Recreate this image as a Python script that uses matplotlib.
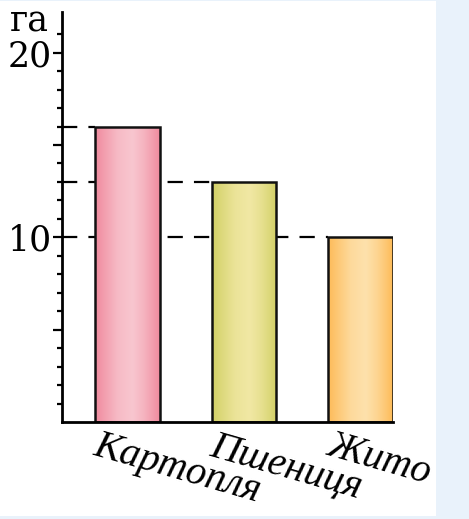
import numpy as np
import matplotlib
matplotlib.use("Agg")
import matplotlib.pyplot as plt
from matplotlib.patches import Rectangle
from matplotlib.colors import LinearSegmentedColormap

categories = ["Картопля", "Пшениця", "Жито"]
values = [16, 13, 10]
y_ticks = [10, 20]
y_unit = "га"
edge_colors = ["#f08a9e", "#d2d066", "#fdbb58"]
mid_colors = ["#f8c6cf", "#f1e8a4", "#fee1ac"]

plt.rcParams['lines.scale_dashes'] = False

W, H = 469, 519
fig = plt.figure(figsize=(W / 100, H / 100), dpi=100, facecolor="#e9f2fb")
fig.patches.append(Rectangle((0, 3 / H), 436 / W, 1 - 4 / H, transform=fig.transFigure,
                             facecolor="white", edgecolor="none", zorder=-10))

ax = fig.add_axes([62 / W, (H - 422) / H, (393 - 62) / W, (422 - 12) / H])
ax.set_zorder(5)
ax.set_facecolor("none")
bw = 0.556
x = np.arange(len(categories))

grad = np.array([0.0, 0.15, 0.35, 0.58, 0.75, 0.9, 1.0])
prof = np.array([0.0, 0.35, 0.8, 1.0, 0.7, 0.3, 0.0])
prof_x = np.linspace(0, 1, 200)
prof_v = np.interp(prof_x, grad, prof)

for i, (xi, v) in enumerate(zip(x, values)):
    ax.plot([-0.56, xi - bw / 2], [v, v], color="black", lw=1.6,
            dashes=(11, 8), zorder=1, clip_on=False,
            dash_capstyle="butt")
    cmap = LinearSegmentedColormap.from_list("c%d" % i, [edge_colors[i], mid_colors[i]])
    rect = Rectangle((xi - bw / 2, 0), bw, v, facecolor="none", edgecolor="#111111",
                     lw=1.8, zorder=3)
    ax.add_patch(rect)
    im = ax.imshow(prof_v[np.newaxis, :], cmap=cmap, aspect="auto",
                   extent=(xi - bw / 2, xi + bw / 2, 0, v), zorder=2,
                   interpolation="bicubic")
    im.set_clip_path(rect)
    ax.text(xi - bw / 2 + 0.04, -0.3, categories[i], rotation=-16,
            rotation_mode="anchor", ha="left", va="top", fontsize=29,
            family="Liberation Serif", style="italic")

ax.set_xlim(-0.56, 2.278)
ax.set_ylim(0, 22.2)

for s in ["top", "right"]:
    ax.spines[s].set_visible(False)
ax.spines["left"].set_linewidth(2)
ax.spines["bottom"].set_linewidth(2)
ax.spines["left"].set_zorder(4)
ax.spines["bottom"].set_zorder(4)

ax.set_xticks([])
ax.set_yticks([5, 10, 15, 20])
ax.set_yticklabels(["", "10", "", "20"], fontsize=25, family="DejaVu Serif")
ax.set_yticks(np.arange(1, 22), minor=True)
ax.tick_params(axis="y", which="major", length=6.5, width=1.6, pad=1)
ax.tick_params(axis="y", which="minor", length=3.6, width=1.6)

fig.text(49 / W, 1 - 31 / H, y_unit, ha="right", va="baseline", fontsize=25,
         family="DejaVu Serif")

fig.savefig("out.png", dpi=100, facecolor=fig.get_facecolor())
